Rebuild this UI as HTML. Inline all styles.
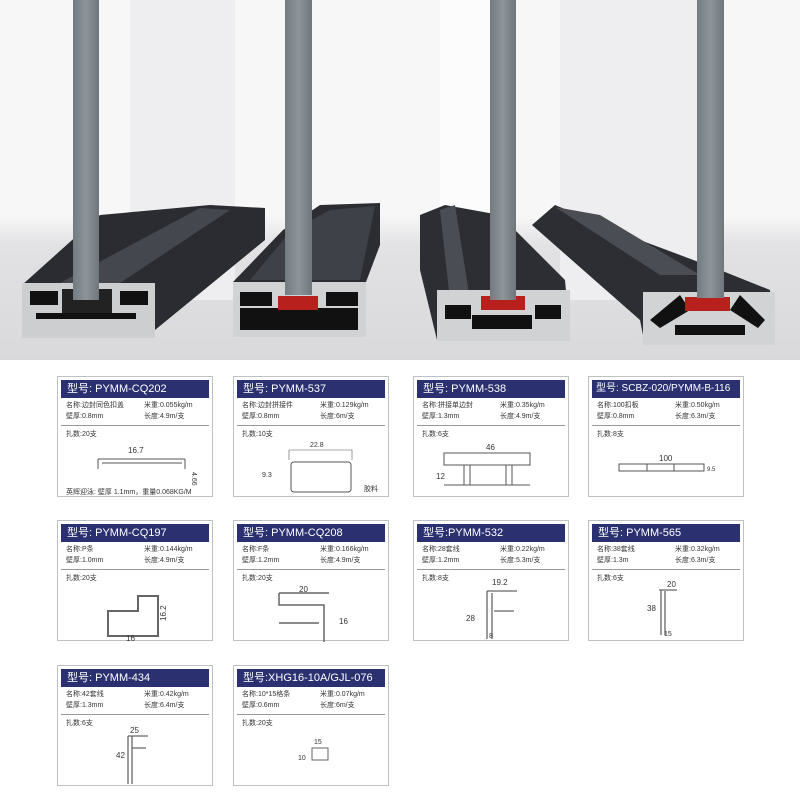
<!DOCTYPE html>
<html><head><meta charset="utf-8"><style>
*{margin:0;padding:0;box-sizing:border-box}
body{width:800px;height:800px;background:#fff;position:relative;overflow:hidden;font-family:"Liberation Sans","Noto Sans CJK SC",sans-serif}
.card{position:absolute;width:156px;height:121px;border:1px solid #bfc0c4;background:#fff}
.hd{position:absolute;left:3px;top:3px;right:3px;height:18px;background:#2b3070;color:#fff;font-size:11px;line-height:18px;padding-left:6px;white-space:nowrap;overflow:hidden}
.info{position:absolute;left:8px;top:23px;font-size:7px;color:#333;line-height:11px}
.info2{position:absolute;left:86px;top:23px;font-size:7px;color:#333;line-height:11px}
.ln{position:absolute;left:3px;right:3px;top:48px;border-top:1px solid #999}
.zs{position:absolute;left:8px;top:52px;font-size:7px;color:#333}
svg.d{position:absolute;left:0;top:0}
</style></head><body>
<svg width="800" height="360" style="position:absolute;left:0;top:0">
<defs>
<linearGradient id="bg" x1="0" y1="0" x2="0" y2="1"><stop offset="0" stop-color="#f7f7f8"/><stop offset="0.6" stop-color="#f7f7f8"/><stop offset="0.68" stop-color="#e2e2e4"/><stop offset="1" stop-color="#d9d9db"/></linearGradient>
<linearGradient id="gl" x1="0" x2="1"><stop offset="0" stop-color="#737b81"/><stop offset="0.5" stop-color="#8d959a"/><stop offset="1" stop-color="#6f767c"/></linearGradient>
</defs>
<rect width="800" height="360" fill="url(#bg)"/>
<rect x="130" y="0" width="105" height="300" fill="#eeeef0"/>
<rect x="560" y="0" width="150" height="300" fill="#eeeef0"/>
<rect x="440" y="0" width="70" height="250" fill="#fcfcfc"/>
<polygon points="22,285 100,215 210,205 265,208 265,240 155,330 22,330" fill="#2a2c31"/>
<polygon points="60,283 200,208 230,210 120,283" fill="#44474d"/>
<rect x="22" y="283" width="133" height="55" fill="#cdced0"/>
<rect x="30" y="291" width="28" height="14" fill="#111"/><rect x="120" y="291" width="28" height="14" fill="#111"/>
<rect x="62" y="289" width="50" height="24" fill="#222"/><rect x="36" y="313" width="100" height="6" fill="#111"/>
<polygon points="233,282 283,230 320,205 380,203 380,245 366,282 366,337 233,337" fill="#2b2d32"/>
<polygon points="250,280 290,232 330,210 375,206 360,280" fill="#3e4147"/>
<rect x="233" y="282" width="133" height="55" fill="#d1d2d4"/>
<rect x="240" y="292" width="32" height="14" fill="#111"/><rect x="326" y="292" width="32" height="14" fill="#111"/>
<rect x="240" y="308" width="118" height="22" fill="#111"/>
<rect x="278" y="296" width="40" height="14" fill="#b8201e"/>
<polygon points="420,270 420,215 445,205 500,215 565,280 570,335 437,340" fill="#2c2e33"/>
<polygon points="440,210 455,205 470,300 450,300" fill="#4a4d53"/>
<rect x="437" y="290" width="133" height="51" fill="#d1d2d4"/>
<rect x="445" y="305" width="26" height="14" fill="#111"/><rect x="535" y="305" width="26" height="14" fill="#111"/>
<rect x="472" y="315" width="60" height="14" fill="#111"/>
<rect x="481" y="296" width="44" height="14" fill="#b8201e"/>
<polygon points="532,225 555,205 640,240 720,270 770,290 775,345 645,345 640,320" fill="#2c2e33"/>
<polygon points="555,207 600,215 700,275 660,275" fill="#4a4d53"/>
<rect x="643" y="292" width="132" height="53" fill="#d2d3d5"/>
<polygon points="650,320 680,295 690,310 660,328" fill="#111"/><polygon points="765,320 740,295 730,310 758,328" fill="#111"/>
<rect x="675" y="325" width="70" height="10" fill="#111"/>
<rect x="685" y="297" width="45" height="14" fill="#b8201e"/>
<rect x="73" y="0" width="26" height="300" fill="url(#gl)"/>
<rect x="285" y="0" width="27" height="295" fill="url(#gl)"/>
<rect x="490" y="0" width="26" height="300" fill="url(#gl)"/>
<rect x="697" y="0" width="27" height="298" fill="url(#gl)"/>
</svg>

<div class="card" style="left:57px;top:376px"><div class="hd">型号: PYMM-CQ202</div><div class="info">名称:边封同色扣盖<br>壁厚:0.8mm</div><div class="info2">米重:0.055kg/m<br>长度:4.9m/支</div><div class="ln"></div><div class="zs">扎数:20支</div>
<svg class="d" width="156" height="121"><text x="70" y="76" font-size="8" fill="#333">16.7</text><path d="M40 82H127M40 82v10M127 82v10M44 86h80" stroke="#555" fill="none" stroke-width="1"/><text x="134" y="95" font-size="7" fill="#333" transform="rotate(90 134 95)">4.66</text><text x="8" y="117" font-size="7" fill="#333">英辉迎泳: 壁厚 1.1mm，重量0.068KG/M</text></svg></div>

<div class="card" style="left:233px;top:376px"><div class="hd">型号: PYMM-537</div><div class="info">名称:边封拼接件<br>壁厚:0.8mm</div><div class="info2">米重:0.129kg/m<br>长度:6m/支</div><div class="ln"></div><div class="zs">扎数:10支</div>
<svg class="d" width="156" height="121"><text x="76" y="70" font-size="7" fill="#333">22.8</text><path d="M55 73H118M55 73v10M118 73v10" stroke="#555" stroke-width=".6" fill="none"/><rect x="57" y="85" width="60" height="30" rx="3" fill="none" stroke="#555"/><text x="28" y="100" font-size="7" fill="#333">9.3</text><text x="130" y="114" font-size="7" fill="#333">胶料</text></svg></div>

<div class="card" style="left:413px;top:376px"><div class="hd">型号: PYMM-538</div><div class="info">名称:拼接单边封<br>壁厚:1.3mm</div><div class="info2">米重:0.35kg/m<br>长度:4.9m/支</div><div class="ln"></div><div class="zs">扎数:6支</div>
<svg class="d" width="156" height="121"><text x="72" y="73" font-size="8" fill="#333">46</text><rect x="30" y="76" width="86" height="12" fill="none" stroke="#555"/><path d="M30 108H116M50 88v20M56 88v20M92 88v20M98 88v20" stroke="#555" fill="none"/><text x="22" y="102" font-size="8" fill="#333">12</text></svg></div>

<div class="card" style="left:588px;top:376px"><div class="hd" style="font-size:10px;padding-left:4px">型号: SCBZ-020/PYMM-B-116</div><div class="info">名称:100扣板<br>壁厚:0.8mm</div><div class="info2">米重:0.50kg/m<br>长度:6.3m/支</div><div class="ln"></div><div class="zs">扎数:8支</div>
<svg class="d" width="156" height="121"><text x="70" y="84" font-size="8" fill="#333">100</text><rect x="30" y="87" width="85" height="7" fill="none" stroke="#555"/><path d="M58 87v7M85 87v7" stroke="#555"/><text x="118" y="94" font-size="6" fill="#333">9.5</text></svg></div>

<div class="card" style="left:57px;top:520px"><div class="hd">型号: PYMM-CQ197</div><div class="info">名称:P条<br>壁厚:1.0mm</div><div class="info2">米重:0.144kg/m<br>长度:4.9m/支</div><div class="ln"></div><div class="zs">扎数:20支</div>
<svg class="d" width="156" height="121"><path d="M100 75v40H50V90h30v-15z" fill="none" stroke="#666" stroke-width="2"/><text x="108" y="100" font-size="8" fill="#333" transform="rotate(-90 108 100)">16.2</text><text x="68" y="120" font-size="8" fill="#333">16</text></svg></div>

<div class="card" style="left:233px;top:520px"><div class="hd">型号: PYMM-CQ208</div><div class="info">名称:F条<br>壁厚:1.2mm</div><div class="info2">米重:0.166kg/m<br>长度:4.9m/支</div><div class="ln"></div><div class="zs">扎数:20支</div>
<svg class="d" width="156" height="121"><text x="65" y="71" font-size="8" fill="#333">20</text><path d="M45 72H95M45 72v12h45v38M45 102h40" stroke="#666" fill="none" stroke-width="1.5"/><text x="105" y="103" font-size="8" fill="#333">16</text></svg></div>

<div class="card" style="left:413px;top:520px"><div class="hd">型号:PYMM-532</div><div class="info">名称:28套线<br>壁厚:1.2mm</div><div class="info2">米重:0.22kg/m<br>长度:5.3m/支</div><div class="ln"></div><div class="zs">扎数:8支</div>
<svg class="d" width="156" height="121"><text x="78" y="64" font-size="8" fill="#333">19.2</text><path d="M73 70h30M73 70v48M78 72v46M80 90h20" stroke="#666" fill="none" stroke-width="1.3"/><text x="52" y="100" font-size="8" fill="#333">28</text><text x="75" y="117" font-size="7" fill="#333">8</text></svg></div>

<div class="card" style="left:588px;top:520px"><div class="hd">型号: PYMM-565</div><div class="info">名称:38套线<br>壁厚:1.3m</div><div class="info2">米重:0.32kg/m<br>长度:6.3m/支</div><div class="ln"></div><div class="zs">扎数:6支</div>
<svg class="d" width="156" height="121"><text x="78" y="66" font-size="8" fill="#333">20</text><path d="M70 69h18M72 69v45M76 70v44" stroke="#666" fill="none" stroke-width="1.3"/><text x="58" y="90" font-size="8" fill="#333">38</text><text x="75" y="115" font-size="7" fill="#333">15</text></svg></div>

<div class="card" style="left:57px;top:665px"><div class="hd">型号: PYMM-434</div><div class="info">名称:42套线<br>壁厚:1.3mm</div><div class="info2">米重:0.42kg/m<br>长度:6.4m/支</div><div class="ln"></div><div class="zs">扎数:6支</div>
<svg class="d" width="156" height="121"><text x="72" y="67" font-size="8" fill="#333">25</text><path d="M70 70h20M70 70v48M74 70v48M74 82h14" stroke="#666" fill="none" stroke-width="1.3"/><text x="58" y="92" font-size="8" fill="#333">42</text></svg></div>

<div class="card" style="left:233px;top:665px"><div class="hd">型号:XHG16-10A/GJL-076</div><div class="info">名称:10*15格条<br>壁厚:0.6mm</div><div class="info2">米重:0.07kg/m<br>长度:6m/支</div><div class="ln"></div><div class="zs">扎数:20支</div>
<svg class="d" width="156" height="121"><text x="80" y="78" font-size="7" fill="#333">15</text><rect x="78" y="82" width="16" height="12" fill="none" stroke="#666"/><text x="64" y="94" font-size="7" fill="#333">10</text></svg></div>
</body></html>
